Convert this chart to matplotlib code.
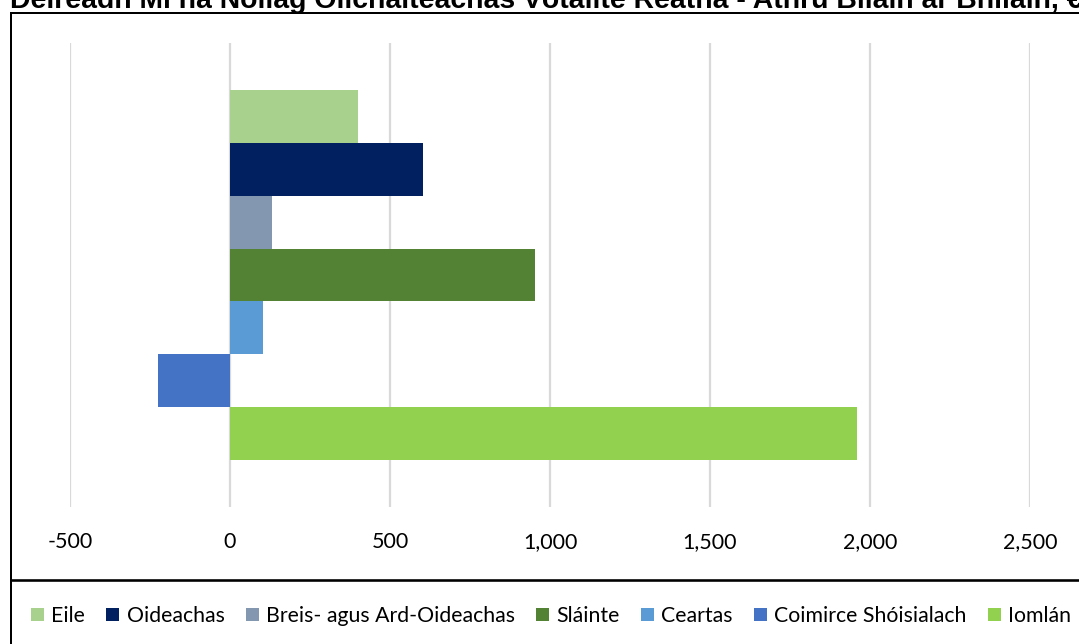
import matplotlib
matplotlib.use("Agg")
import matplotlib.pyplot as plt
from matplotlib.lines import Line2D

categories = ["Eile", "Oideachas", "Breis- agus Ard-Oideachas", "Sláinte",
              "Ceartas", "Coimirce Shóisialach", "Iomlán"]
values = [400, 603, 131, 953, 103, -225, 1959]
colors = ["#a9d18e", "#002060", "#8497b0", "#548235", "#5b9bd5", "#4472c4", "#92d050"]
xticks = [-500, 0, 500, 1000, 1500, 2000, 2500]
xticklabels = ["-500", "0", "500", "1,000", "1,500", "2,000", "2,500"]
title = "Deireadh Mí na Nollag Ollchaiteachas Vótáilte Reatha - Athrú Bliain ar Bhliain, €m"

W, H = 1079, 644
fig = plt.figure(figsize=(W / 100, H / 100), dpi=100)
fig.patch.set_facecolor("white")

ax = fig.add_axes([70 / W, 1 - 507 / H, (1030 - 70) / W, (507 - 43) / H])
bars = []
for i, (c, v, col) in enumerate(zip(categories, values, colors)):
    b = ax.barh(i, v, height=1.0, color=col, label=c, zorder=3)
    bars.append(b)

gap = 0.889
ax.set_ylim(len(values) - 0.5 + gap, -0.5 - gap)
ax.set_xlim(-500, 2500)
ax.set_xticks(xticks)
ax.set_xticklabels(xticklabels, fontfamily="Lato", fontsize=15.5, color="#000000")
ax.tick_params(axis="x", length=0, pad=18)
ax.set_yticks([])
for s in ax.spines.values():
    s.set_visible(False)
ax.grid(axis="x", color="#d9d9d9", linewidth=1.6, zorder=0)
ax.set_axisbelow(True)

# frame around chart (cropped)
lw = 2.0
fig.add_artist(Line2D([10.5 / W, 10.5 / W], [1 - 12.5 / H, -0.1], transform=fig.transFigure,
                      color="black", linewidth=lw * 0.72))
fig.add_artist(Line2D([10.5 / W, 1.1], [1 - 12.5 / H, 1 - 12.5 / H], transform=fig.transFigure,
                      color="black", linewidth=lw * 0.72))
fig.add_artist(Line2D([10.5 / W, 1.1], [1 - 579.5 / H, 1 - 579.5 / H], transform=fig.transFigure,
                      color="black", linewidth=2.6 * 0.72))

fig.text(10 / W, 1 - 7.5 / H, title, fontfamily="Liberation Sans", fontweight="bold",
         fontsize=20.4, va="baseline", ha="left", color="black")

leg = fig.legend(handles=[b for b in bars], labels=categories, loc="center left",
                 bbox_to_anchor=(31 / W, 1 - 616 / H), ncol=7, frameon=False,
                 prop={"family": "Lato", "size": 15.3},
                 handlelength=0.62, handleheight=0.62, handletextpad=0.33,
                 columnspacing=1.0, borderaxespad=0, borderpad=0)

fig.savefig("out.png", dpi=100)
